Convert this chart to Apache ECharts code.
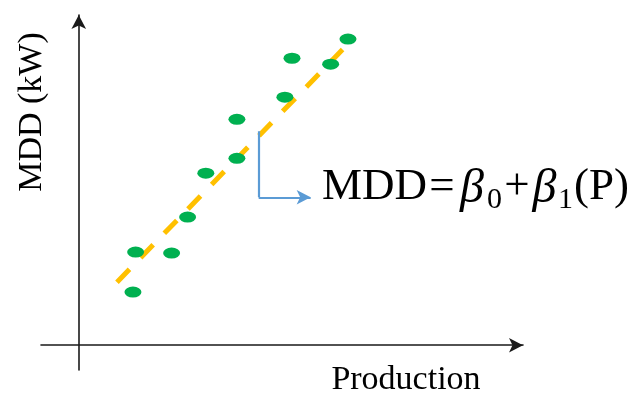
<!DOCTYPE html>
<html>
<head>
<meta charset="utf-8">
<script src="https://cdn.jsdelivr.net/npm/echarts@6/dist/echarts.min.js"></script>
<style>html,body{margin:0;padding:0;background:#fff}#c{width:636px;height:396px}</style>
</head>
<body>
<div id="c"></div>
<script>
// Observations (arbitrary units: Production vs MDD)
var production = [12.2, 12.8, 20.9, 24.5, 28.6, 35.6, 35.6, 46.4, 48.0, 56.7, 60.6];
var mdd        = [16.1, 28.2, 27.9, 38.8, 52.1, 56.6, 68.4, 75.1, 86.9, 85.1, 92.7];
// Fitted regression line end points
var fitX = [8.6, 62.1];
var fitY = [19.1, 93.3];
// Connector from fit line to equation
var connX = [40.5, 40.5, 52.2];
var connY = [64.8, 44.8, 44.8];

var xAxisName = 'Production';
var yAxisName = 'MDD (kW)';

var points = production.map(function (x, i) { return [x, mdd[i]]; });
var fit = fitX.map(function (x, i) { return [x, fitY[i]]; });

var chart = echarts.init(document.getElementById('c'), null, {renderer: 'canvas'});
var axisLine = {onZero: true, symbol: ['none', 'arrow'], symbolSize: [11, 14], lineStyle: {color: '#1a1a1a', width: 1.6}};
var subPad = [23, 0, 0, 0];
chart.setOption({
  backgroundColor: '#ffffff',
  animation: false,
  grid: {left: 41, right: 113, top: 15, bottom: 26},
  xAxis: {type: 'value', min: -8.5, max: 100, axisLine: axisLine, axisTick: {show: false}, axisLabel: {show: false}, splitLine: {show: false}},
  yAxis: {type: 'value', min: -7.5, max: 100, axisLine: axisLine, axisTick: {show: false}, axisLabel: {show: false}, splitLine: {show: false}},
  series: [
    {
      type: 'line', data: fit, symbol: 'none', z: 1,
      lineStyle: {color: '#FFC000', width: 5, type: [18, 16], cap: 'butt'}
    },
    {
      type: 'scatter', data: points, z: 3,
      symbol: 'circle', symbolSize: [17, 11],
      itemStyle: {color: '#00B050', opacity: 1}
    },
    {
      type: 'line', data: [], z: 2,
      markLine: {
        silent: true, animation: false,
        label: {show: false},
        lineStyle: {color: '#5B9BD5', width: 2.2, type: 'solid'},
        data: [
          [{coord: [connX[0], connY[0]], symbol: 'none'}, {coord: [connX[1], connY[1]], symbol: 'none'}],
          [{coord: [connX[1], connY[1]], symbol: 'none'}, {coord: [connX[2], connY[2]], symbol: 'arrow', symbolSize: [11, 14]}]
        ]
      }
    }
  ],
  graphic: [
    {
      type: 'text', x: 32, y: 112, rotation: Math.PI / 2,
      style: {text: yAxisName, font: '34px "Liberation Serif"', fill: '#000', align: 'center', verticalAlign: 'middle'}
    },
    {
      type: 'text', x: 406, y: 380,
      style: {text: xAxisName, font: '34px "Liberation Serif"', fill: '#000', align: 'center', verticalAlign: 'middle'}
    },
    {
      type: 'text', x: 322, y: 190,
      style: {
        text: '{a|MDD}{e|=}{b|β}{s0|0}{p|+}{b2|β}{s1|1}{c|(P)}',
        align: 'left', verticalAlign: 'middle',
        rich: {
          a: {fontFamily: 'Liberation Serif', fontSize: 45, fill: '#000', lineHeight: 50, verticalAlign: 'top', width: 105, align: 'left'},
          e: {fontFamily: 'Liberation Serif', fontSize: 45, fill: '#000', lineHeight: 50, verticalAlign: 'top', width: 30, align: 'center'},
          b: {fontFamily: 'Liberation Serif', fontStyle: 'italic', fontSize: 48, fill: '#000', lineHeight: 50, verticalAlign: 'top', width: 30, align: 'left'},
          s0: {fontFamily: 'Liberation Serif', fontSize: 30, fill: '#000', lineHeight: 30, verticalAlign: 'bottom', width: 15, align: 'left', padding: subPad},
          p: {fontFamily: 'Liberation Serif', fontSize: 45, fill: '#000', lineHeight: 50, verticalAlign: 'top', width: 30, align: 'center'},
          b2: {fontFamily: 'Liberation Serif', fontStyle: 'italic', fontSize: 48, fill: '#000', lineHeight: 50, verticalAlign: 'top', width: 25, align: 'left'},
          s1: {fontFamily: 'Liberation Serif', fontSize: 30, fill: '#000', lineHeight: 30, verticalAlign: 'bottom', width: 17, align: 'left', padding: subPad},
          c: {fontFamily: 'Liberation Serif', fontSize: 45, fill: '#000', lineHeight: 50, verticalAlign: 'top', width: 55, align: 'left'}
        }
      }
    }
  ]
});
</script>
</body>
</html>
